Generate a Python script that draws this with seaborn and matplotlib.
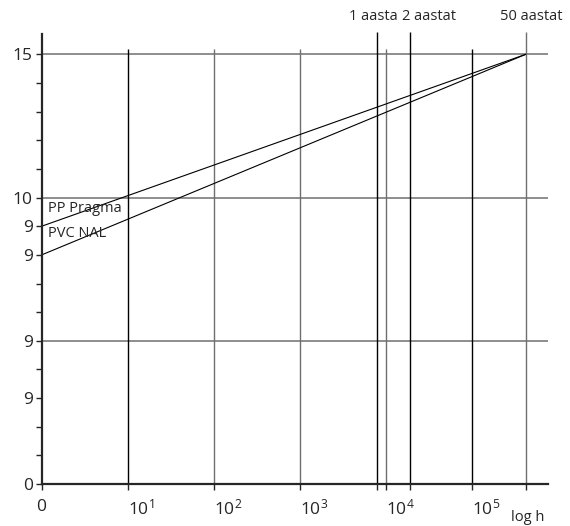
import numpy as np
import pandas as pd
import seaborn as sns
import matplotlib.pyplot as plt
from matplotlib.ticker import FixedLocator, NullFormatter

# andmed (loetud pildilt)
start_h = [1, 1]
end_h = [4.2e5, 4.2e5]
materjal = ['PP Pragma', 'PVC NAL']
algus = [9, 8]
lopp = [15, 15]

kumnendid = [1, 10, 100, 1000, 1e4, 1e5]
x_sildid = ['$0$', '$10^1$', '$10^2$', '$10^3$', '$10^4$', '$10^5$']
aastad_h = [7.8e3, 1.9e4, 4.2e5]
aastad_txt = ['1 aasta', '2 aastat', '50 aastat']
y_ticks = [0, 3, 5, 8, 9, 10, 15]
y_sildid = ['0', '9', '9', '9', '9', '10', '15']
y_grid = [5, 10, 15]

sns.set_style('ticks')
plt.rcParams['font.family'] = ['Open Sans', 'DejaVu Sans']
plt.rcParams['mathtext.fontset'] = 'custom'
plt.rcParams['mathtext.rm'] = 'Open Sans'
plt.rcParams['mathtext.it'] = 'Open Sans'

fig = plt.figure(figsize=(5.7, 5.26), dpi=100)
ax = fig.add_axes([0.0732, 0.0798, 0.888, 0.855])

df = pd.DataFrame({
    'h': start_h + end_h,
    'v': algus + lopp,
    'm': materjal + materjal,
})
sns.lineplot(data=df, x='h', y='v', units='m', estimator=None,
             color='black', lw=0.8, ax=ax)

ax.set_xscale('log')
ax.set_xlim(1, 7.6e5)
ax.set_ylim(0, 15.7)

# ruudustik
ax.hlines(y_grid, 1, 7.6e5, color='#6f6f6f', lw=1.1, zorder=1)
dec_col = ['black', 'black', '#6f6f6f', '#6f6f6f', '#6f6f6f', 'black']
for d, c in zip(kumnendid[1:], dec_col[1:]):
    ax.vlines(d, 0, 15.2, color=c, lw=1.0, zorder=1)
for a, c in zip(aastad_h, ['black', 'black', '#6f6f6f']):
    ax.vlines(a, 0, 15.77, color=c, lw=1.0, zorder=1, clip_on=False)

ax.xaxis.set_major_locator(FixedLocator(kumnendid))
ax.set_xticklabels(x_sildid)
ax.xaxis.set_minor_locator(FixedLocator(aastad_h))
ax.xaxis.set_minor_formatter(NullFormatter())
ax.tick_params(axis='x', which='both', direction='out', length=4.5, width=1.0,
               pad=6, labelsize=12.5)
for lab in ax.get_xticklabels()[1:]:
    lab.set_horizontalalignment('left')

ax.yaxis.set_major_locator(FixedLocator(y_ticks))
ax.set_yticklabels(y_sildid)
ax.yaxis.set_minor_locator(FixedLocator(range(0, 16)))
ax.tick_params(axis='y', which='both', direction='out', length=4.5, width=1.0,
               pad=2, labelsize=12.5)

ax.set_xlabel(None)
ax.set_ylabel(None)
sns.despine(ax=ax, top=True, right=True)
for s in ['left', 'bottom']:
    ax.spines[s].set_linewidth(1.6)

ax.text(1.18, 9.62, materjal[0], fontsize=10.5, va='center', ha='left')
ax.text(1.18, 8.74, materjal[1], fontsize=10.5, va='center', ha='left')

for t, xp in zip(aastad_txt, [373, 428.5, 531]):
    fig.text(xp / 570, 1 - 17 / 526, t, fontsize=10.5, ha='center', va='center')
fig.text(528 / 570, 1 - 525 / 526, 'log h', fontsize=10.5, ha='center', va='bottom')

plt.savefig('out.png', dpi=100)
